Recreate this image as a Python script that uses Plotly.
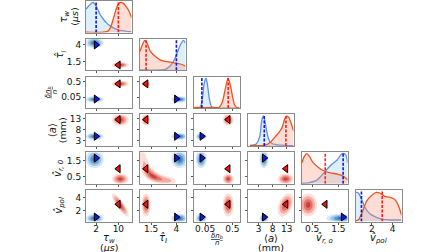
import numpy as np
import plotly.graph_objects as go

# ---------------- data ----------------
IS_LOG = [False, False, True, False, False, False]

TICK_VALS = [[2, 10], [1.5, 4], [0.05, 0.5], [3, 8, 13], [0.5, 1.5], [2, 4]]
TICK_TEXT = [["2", "10"], ["1.5", "4"], ["0.05", "0.5"], ["3", "8", "13"], ["0.5", "1.5"], ["2", "4"]]

# axis titles, split in two lines (second line may be empty)
X_TITLE_1 = ["<i>τ<sub>w</sub></i>", "<i>τ\u0302<sub>I</sub></i>", "<u><i>δn<sub>b</sub></i></u>",
             "⟨<i>a</i>⟩", "<i>v\u0302<sub>r, o</sub></i>", "<i>v\u0302<sub>pol</sub></i>"]
X_TITLE_2 = ["(<i>μs</i>)", "", "<i>n</i>", "(mm)", "", ""]
Y_TITLE_1 = ["<i>τ<sub>w</sub></i>", "<i>τ\u0302<sub>I</sub></i>", "<u><i>δn<sub>b</sub></i></u>",
             "⟨<i>a</i>⟩", "<i>v\u0302<sub>r, 0</sub></i>", "<i>v\u0302<sub>pol</sub></i>"]
Y_TITLE_2 = ["(<i>μs</i>)", "", "<i>n</i>", "(mm)", "", ""]

# means (markers, dashed lines)
BLUE_MEAN = [2.0, 4.0, 0.038, 5.0, 1.68, 1.0]
RED_MEAN = [10.0, 1.0, 0.35, 12.7, 1.0, 3.0]

# 2D density blobs: mode and spread (log params: spread in decades)
BLUE_MODE = [1.5, 4.3, 0.036, 4.9, 1.6, 0.8]
BLUE_SPREAD = [1.6, 0.4, 0.10, 0.8, 0.28, 0.35]
RED_MODE = [10.7, 1.0, 0.35, 12.6, 0.35, 2.9]
RED_SPREAD = [1.5, 0.22, 0.10, 1.4, 0.17, 0.9]
RED_CORR_PAIRS = [(0, 5, -0.85), (3, 5, 0.4)]

# curved red ridge in the (tau_I, v_r0) panel
RIDGE_TAU_I = [0.6, 0.65, 0.75, 0.9, 1.05, 1.25, 1.5, 1.8, 2.1, 2.5, 2.9, 3.3, 3.7]
RIDGE_VR0 = [2.0, 1.75, 1.5, 1.2, 0.95, 0.75, 0.58, 0.47, 0.39, 0.32, 0.27, 0.23, 0.2]
RIDGE_WEIGHT = [0.25, 0.35, 0.45, 0.6, 0.8, 0.95, 1.0, 0.95, 0.85, 0.7, 0.55, 0.42, 0.3]

# 1D marginal curves
TAU_W_BLUE_X = [-1.64, -0.91, -0.18, 0.55, 0.91, 1.27, 2.0, 2.73, 3.45, 4.55, 5.64, 7.09, 8.55, 10.0, 11.45, 12.9, 14.73]
TAU_W_BLUE_Y = [0.78, 0.86, 0.93, 0.99, 1.0, 0.98, 0.88, 0.74, 0.6, 0.45, 0.33, 0.22, 0.14, 0.09, 0.06, 0.04, 0.03]
TAU_W_RED_X = [-1.64, 4.5, 6.36, 7.09, 8.18, 9.27, 10.0, 10.73, 11.82, 12.9, 13.64, 14.73]
TAU_W_RED_Y = [0.01, 0.01, 0.05, 0.15, 0.45, 0.8, 0.95, 1.0, 0.97, 0.85, 0.75, 0.5]

TAU_I_BLUE_X = [0.4, 2.4, 2.9, 3.4, 3.8, 4.1, 4.4, 4.7, 4.9]
TAU_I_BLUE_Y = [0.01, 0.01, 0.03, 0.15, 0.35, 0.6, 0.85, 1.0, 0.9]
TAU_I_RED_X = [0.4, 0.6, 0.8, 0.9, 1.1, 1.4, 1.9, 2.4, 2.9, 3.4, 3.9, 4.4, 4.9]
TAU_I_RED_Y = [0.63, 0.82, 0.97, 1.0, 0.9, 0.65, 0.47, 0.35, 0.3, 0.27, 0.24, 0.21, 0.14]

DNB_BLUE_X = [0.0196, 0.0327, 0.0387, 0.0459, 0.0531, 0.0593, 0.0703, 0.0834, 0.0989, 0.2, 0.908]
DNB_BLUE_Y = [0.0, 0.03, 0.25, 0.8, 1.0, 0.85, 0.35, 0.07, 0.01, 0.0, 0.0]
DNB_RED_X = [0.0196, 0.1, 0.165, 0.213, 0.275, 0.347, 0.422, 0.5, 0.593, 0.703, 0.908]
DNB_RED_Y = [0.02, 0.02, 0.03, 0.2, 0.65, 1.0, 0.75, 0.4, 0.12, 0.03, 0.01]

A_BLUE_X = [-0.1, 1.97, 3.34, 4.03, 4.62, 5.07, 5.76, 6.45, 7.48, 9.21, 12.66, 15.41]
A_BLUE_Y = [0.02, 0.05, 0.3, 0.8, 1.0, 0.9, 0.55, 0.25, 0.1, 0.04, 0.02, 0.01]
A_RED_X = [-0.1, 3.0, 4.72, 6.1, 7.48, 8.86, 10.24, 11.28, 12.31, 13.0, 13.69, 14.38, 15.41]
A_RED_Y = [0.01, 0.01, 0.02, 0.05, 0.15, 0.3, 0.45, 0.6, 0.9, 1.0, 0.95, 0.8, 0.5]

VR0_BLUE_X = [0.115, 0.35, 0.68, 0.92, 1.19, 1.46, 1.64, 1.77, 1.85]
VR0_BLUE_Y = [0.01, 0.03, 0.12, 0.33, 0.6, 0.8, 1.0, 0.97, 0.7]
VR0_RED_X = [0.115, 0.2, 0.3, 0.4, 0.54, 0.73, 0.92, 1.19, 1.46, 1.69, 1.85]
VR0_RED_Y = [0.7, 0.9, 1.0, 0.9, 0.7, 0.55, 0.44, 0.36, 0.32, 0.25, 0.13]

VPOL_BLUE_X = [0.476, 0.695, 1.02, 1.33, 1.81, 2.45, 3.05, 3.71, 4.19, 4.86]
VPOL_BLUE_Y = [0.98, 0.95, 0.74, 0.47, 0.26, 0.14, 0.07, 0.05, 0.05, 0.05]
VPOL_RED_X = [0.476, 0.695, 1.02, 1.50, 1.97, 2.45, 2.76, 3.24, 3.71, 4.19, 4.50, 4.86]
VPOL_RED_Y = [0.02, 0.05, 0.26, 0.68, 0.87, 0.97, 0.95, 0.84, 0.81, 0.74, 0.58, 0.21]

BLUE_CURVES = [(TAU_W_BLUE_X, TAU_W_BLUE_Y), (TAU_I_BLUE_X, TAU_I_BLUE_Y), (DNB_BLUE_X, DNB_BLUE_Y),
               (A_BLUE_X, A_BLUE_Y), (VR0_BLUE_X, VR0_BLUE_Y), (VPOL_BLUE_X, VPOL_BLUE_Y)]
RED_CURVES = [(TAU_W_RED_X, TAU_W_RED_Y), (TAU_I_RED_X, TAU_I_RED_Y), (DNB_RED_X, DNB_RED_Y),
              (A_RED_X, A_RED_Y), (VR0_RED_X, VR0_RED_Y), (VPOL_RED_X, VPOL_RED_Y)]

# ---------------- layout constants ----------------
W, H = 448, 252
X_RANGE = [[-1.64, 14.73], [0.4, 4.9], [-1.708, -0.042], [-0.79, 15.4], [0.115, 1.846], [0.476, 4.857]]
Y_RANGE = [None, [0.206, 4.91], [-1.995, 0.005], [0.55, 15.1], [0.05, 2.05], [0.31, 5.23]]
DIAG_RANGE = [0, 1.05]

COL_X0 = [86 + 54 * c for c in range(6)]
PANEL_W = 45.5
ROW_Y0 = [1 + 37.8 * r for r in range(6)]
PANEL_H = 31.5

BLUE_LINE = "#5f8fe3"
BLUE_FILL = "rgba(170,215,240,0.40)"
RED_LINE = "#f0521e"
RED_FILL = "rgba(248,150,120,0.32)"
BLUE_DASH = "#1515d8"
RED_DASH = "#ff1c1c"
BLUE_SCALE = [[0, "rgba(255,255,255,0)"], [0.25, "#d7e7f5"], [0.5, "#9cc5e6"], [0.75, "#5a98d0"], [1, "#2f6cb2"]]
RED_SCALE = [[0, "rgba(255,255,255,0)"], [0.25, "#fcdfd9"], [0.5, "#f4aba1"], [0.75, "#e3726a"], [1, "#c94040"]]

FONT = "DejaVu Sans"

fig = go.Figure()


def to_u(v, i):
    return np.log10(v) if IS_LOG[i] else v


def ax_id(k):
    return ("x" if k == 1 else f"x{k}"), ("y" if k == 1 else f"y{k}")


def rho_for(i, j):
    for a, b, rho in RED_CORR_PAIRS:
        if (a, b) == (i, j) or (a, b) == (j, i):
            return rho
    return 0.0


k = 0
axes_layout = {}
for r in range(6):
    for c in range(r + 1):
        k += 1
        xa, ya = ax_id(k)
        xdom = [COL_X0[c] / W, (COL_X0[c] + PANEL_W) / W]
        ydom = [1 - (ROW_Y0[r] + PANEL_H) / H, 1 - ROW_Y0[r] / H]
        xkey = "xaxis" if k == 1 else f"xaxis{k}"
        ykey = "yaxis" if k == 1 else f"yaxis{k}"
        axes_layout[xkey] = dict(
            domain=xdom, anchor=ya, range=X_RANGE[c], type="log" if IS_LOG[c] else "linear",
            showgrid=False, zeroline=False, showline=True, mirror=True, linecolor="#8a8a8a", linewidth=1,
            tickmode="array", tickvals=TICK_VALS[c], ticktext=TICK_TEXT[c],
            ticks="outside", ticklen=2, tickcolor="#555", ticklabelstandoff=-3,
            showticklabels=(r == 5), tickfont=dict(family=FONT, size=9, color="#111"))
        if r == c:
            axes_layout[ykey] = dict(domain=ydom, anchor=xa, range=DIAG_RANGE, showgrid=False,
                                     zeroline=False, showline=True, mirror=True, linecolor="#8a8a8a",
                                     linewidth=1, showticklabels=False, ticks="")
        else:
            axes_layout[ykey] = dict(
                domain=ydom, anchor=xa, range=Y_RANGE[r], type="log" if IS_LOG[r] else "linear",
                showgrid=False, zeroline=False, showline=True, mirror=True, linecolor="#8a8a8a", linewidth=1,
                tickmode="array", tickvals=TICK_VALS[r], ticktext=TICK_TEXT[r],
                ticks="outside", ticklen=2, tickcolor="#555",
                showticklabels=(c == 0), tickfont=dict(family=FONT, size=9, color="#111"))

        if r == c:
            for (cx, cy), line, fill in ((BLUE_CURVES[r], BLUE_LINE, BLUE_FILL), (RED_CURVES[r], RED_LINE, RED_FILL)):
                fig.add_trace(go.Scatter(x=cx, y=cy, mode="lines", line=dict(color=line, width=1.3, shape="spline", smoothing=0.8),
                                         fill="tozeroy", fillcolor=fill, xaxis=xa, yaxis=ya, hoverinfo="skip"))
            for m, col in ((BLUE_MEAN[r], BLUE_DASH), (RED_MEAN[r], RED_DASH)):
                fig.add_trace(go.Scatter(x=[m, m], y=DIAG_RANGE, mode="lines",
                                         line=dict(color=col, width=1.6, dash="3px,1.5px"),
                                         xaxis=xa, yaxis=ya, hoverinfo="skip"))
        else:
            xs_u = np.linspace(X_RANGE[c][0], X_RANGE[c][1], 90)
            ys_u = np.linspace(Y_RANGE[r][0], Y_RANGE[r][1], 70)
            U, V = np.meshgrid(xs_u, ys_u)
            xs = 10 ** xs_u if IS_LOG[c] else xs_u
            ys = 10 ** ys_u if IS_LOG[r] else ys_u
            for pop in ("blue", "red"):
                if pop == "red" and (c, r) == (1, 4):
                    P = np.zeros_like(U)
                    for tx, vy, w in zip(RIDGE_TAU_I, RIDGE_VR0, RIDGE_WEIGHT):
                        P += w * np.exp(-0.5 * (((U - tx) / 0.3) ** 2 + ((V - vy) / 0.16) ** 2))
                    P = np.maximum(P / P.max(), 1e-300)
                    R = np.sqrt(-2 * np.log(P))
                    scale = RED_SCALE
                else:
                    mode = BLUE_MODE if pop == "blue" else RED_MODE
                    spread = BLUE_SPREAD if pop == "blue" else RED_SPREAD
                    rho = 0.0 if pop == "blue" else rho_for(c, r)
                    dx = (U - to_u(mode[c], c)) / spread[c]
                    dy = (V - to_u(mode[r], r)) / spread[r]
                    R = np.sqrt((dx * dx - 2 * rho * dx * dy + dy * dy) / (1 - rho * rho))
                    scale = BLUE_SCALE if pop == "blue" else RED_SCALE
                fig.add_trace(go.Contour(x=xs, y=ys, z=-R, xaxis=xa, yaxis=ya, autocontour=False,
                                         contours=dict(start=-2, end=-0.5, size=0.5, coloring="fill", showlines=False),
                                         colorscale=scale, showscale=False, line=dict(width=0), hoverinfo="skip"))
            fig.add_trace(go.Scatter(x=[BLUE_MEAN[c]], y=[BLUE_MEAN[r]], mode="markers",
                                     marker=dict(symbol="triangle-right", size=7, color="#1414e6",
                                                 line=dict(color="black", width=1)),
                                     xaxis=xa, yaxis=ya, hoverinfo="skip"))
            fig.add_trace(go.Scatter(x=[RED_MEAN[c]], y=[RED_MEAN[r]], mode="markers",
                                     marker=dict(symbol="triangle-left", size=7, color="#ee1111",
                                                 line=dict(color="black", width=1)),
                                     xaxis=xa, yaxis=ya, hoverinfo="skip"))

annotations = []


def add_text(text, px, py, size, angle=0):
    if not text:
        return
    annotations.append(dict(text=text, xref="paper", yref="paper", x=px / W, y=1 - py / H,
                            xanchor="center", yanchor="middle", textangle=angle, showarrow=False,
                            font=dict(family=FONT, size=size, color="#111")))


for c in range(6):
    cx = COL_X0[c] + PANEL_W / 2
    if c == 2:
        add_text(X_TITLE_1[c], cx, 236, 7)
        add_text(X_TITLE_2[c], cx, 243, 7)
    else:
        add_text(X_TITLE_1[c], cx, 238, 10)
        add_text(X_TITLE_2[c], cx, 247, 9.5)

Y_TITLE_X1 = [65, 61, 48, 52, 59, 60]
Y_TITLE_X2 = [75, 0, 55, 62, 0, 0]
for r in range(6):
    cy = ROW_Y0[r] + PANEL_H / 2
    add_text(Y_TITLE_1[r], Y_TITLE_X1[r], cy, 7 if r == 2 else 10, -90)
    add_text(Y_TITLE_2[r], Y_TITLE_X2[r], cy, 7 if r == 2 else 9.5, -90)

fig.update_layout(width=W, height=H, margin=dict(l=0, r=0, t=0, b=0),
                  paper_bgcolor="white", plot_bgcolor="white", showlegend=False,
                  annotations=annotations, **axes_layout)

# zero the page margin before the figure is drawn (script injected ahead of the plot)
PAGE_RESET = "data:text/javascript,document.body.style.margin='0px';document.body.style.padding='0px';//.js"
fig.write_html("out.html", config={"displayModeBar": False}, include_mathjax=PAGE_RESET)
